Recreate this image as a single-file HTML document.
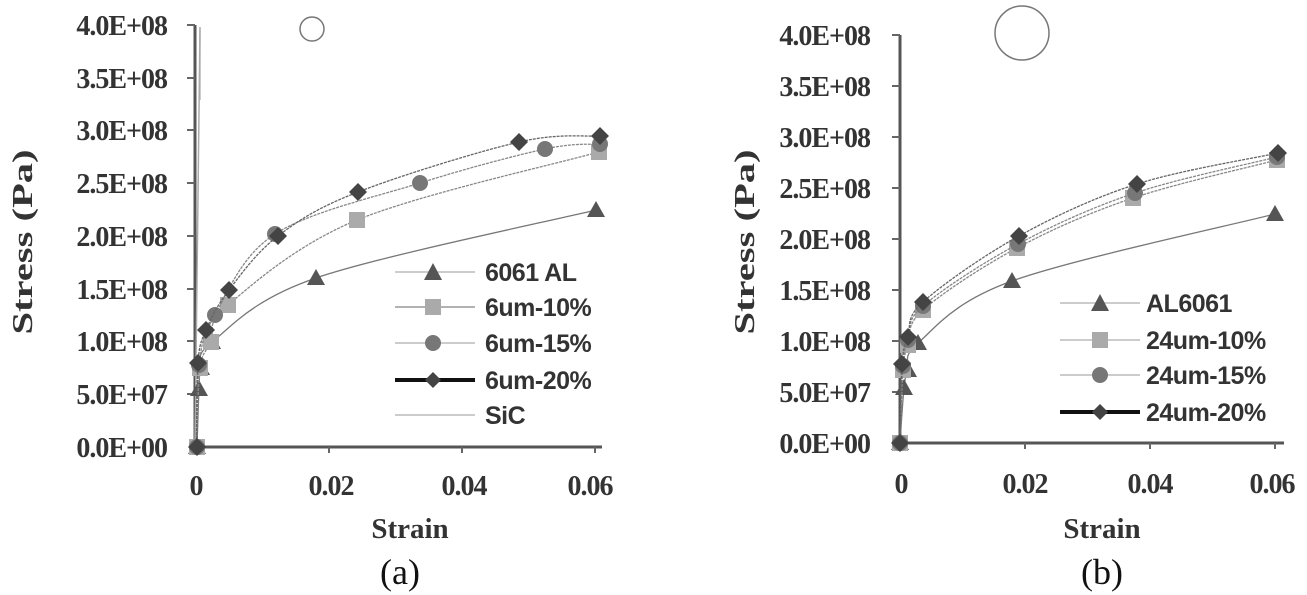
<!DOCTYPE html>
<html><head><meta charset="utf-8"><style>
html,body{margin:0;padding:0;background:#fff;}
svg{display:block;}
.tk{font-family:"Liberation Serif",serif;font-weight:bold;font-size:28px;fill:#333;letter-spacing:-1px;}
.ax{font-family:"Liberation Serif",serif;font-weight:bold;font-size:29px;fill:#333;}
.lg{font-family:"Liberation Sans",sans-serif;font-weight:bold;font-size:25px;fill:#333;letter-spacing:-0.5px;}
.cap{font-family:"Liberation Serif",serif;font-size:36px;fill:#111;}
</style></head><body>
<svg id="s" width="1307" height="595" viewBox="0 0 1307 595" xmlns="http://www.w3.org/2000/svg">
<g stroke="#555" stroke-width="3" fill="none">
<line x1="195" y1="25" x2="195" y2="447"/>
<line x1="195" y1="447" x2="602" y2="447"/>
</g>
<g stroke="#666" stroke-width="2">
<line x1="187" y1="25" x2="195" y2="25"/><line x1="187" y1="78" x2="195" y2="78"/><line x1="187" y1="130" x2="195" y2="130"/><line x1="187" y1="183" x2="195" y2="183"/><line x1="187" y1="236" x2="195" y2="236"/><line x1="187" y1="289" x2="195" y2="289"/><line x1="187" y1="341" x2="195" y2="341"/><line x1="187" y1="394" x2="195" y2="394"/>
<line x1="329" y1="447" x2="329" y2="453"/><line x1="462" y1="447" x2="462" y2="453"/><line x1="595" y1="447" x2="595" y2="453"/>
</g>
<g class="tk" text-anchor="end">
<text x="167" y="35">4.0E+08</text><text x="167" y="88">3.5E+08</text><text x="167" y="140">3.0E+08</text><text x="167" y="193">2.5E+08</text><text x="167" y="246">2.0E+08</text><text x="167" y="299">1.5E+08</text><text x="167" y="351">1.0E+08</text><text x="167" y="404">5.0E+07</text><text x="167" y="457">0.0E+00</text>
</g>
<g class="tk" text-anchor="middle">
<text x="196" y="495">0</text><text x="331" y="495">0.02</text><text x="464" y="495">0.04</text><text x="590" y="495">0.06</text>
</g>
<g class="ax" text-anchor="middle">
<text x="410" y="538">Strain</text>
<text transform="translate(32,242) rotate(-90)" textLength="185" lengthAdjust="spacingAndGlyphs">Stress (Pa)</text>
</g>
<text class="cap" x="400" y="584" text-anchor="middle">(a)</text>
<circle cx="312" cy="29" r="12" fill="none" stroke="#777" stroke-width="1.5"/>
<line x1="200" y1="30" x2="200" y2="100" stroke="#bbb" stroke-width="1.5"/>
<g id="L"></g>
<g>
<line x1="395" y1="272" x2="475" y2="272" stroke="#bbb" stroke-width="1.5"/><polygon points="433,263 442,280 424,280" fill="#555"/>
<line x1="395" y1="307" x2="475" y2="307" stroke="#999" stroke-width="1.5"/><rect x="425" y="299" width="16" height="16" fill="#aaa"/>
<line x1="395" y1="343" x2="475" y2="343" stroke="#bbb" stroke-width="1.5"/><circle cx="433" cy="343" r="8" fill="#777"/>
<line x1="395" y1="380" x2="475" y2="380" stroke="#111" stroke-width="4"/><polygon points="433,372 441,380 433,388 425,380" fill="#444"/>
<line x1="395" y1="415" x2="475" y2="415" stroke="#bbb" stroke-width="1.5"/>
<g class="lg"><text x="485" y="281">6061 AL</text><text x="485" y="316">6um-10%</text><text x="485" y="352">6um-15%</text><text x="485" y="389">6um-20%</text><text x="485" y="424">SiC</text></g>
</g>

<g stroke="#555" stroke-width="3" fill="none">
<line x1="900" y1="35" x2="900" y2="443"/>
<line x1="900" y1="443" x2="1284" y2="443"/>
</g>
<g stroke="#666" stroke-width="2">
<line x1="892" y1="35" x2="900" y2="35"/><line x1="892" y1="86" x2="900" y2="86"/><line x1="892" y1="137" x2="900" y2="137"/><line x1="892" y1="188" x2="900" y2="188"/><line x1="892" y1="239" x2="900" y2="239"/><line x1="892" y1="290" x2="900" y2="290"/><line x1="892" y1="341" x2="900" y2="341"/><line x1="892" y1="392" x2="900" y2="392"/>
<line x1="1025" y1="443" x2="1025" y2="449"/><line x1="1150" y1="443" x2="1150" y2="449"/><line x1="1275" y1="443" x2="1275" y2="449"/>
</g>
<g class="tk" text-anchor="end">
<text x="870" y="45">4.0E+08</text><text x="870" y="96">3.5E+08</text><text x="870" y="147">3.0E+08</text><text x="870" y="198">2.5E+08</text><text x="870" y="249">2.0E+08</text><text x="870" y="300">1.5E+08</text><text x="870" y="351">1.0E+08</text><text x="870" y="402">5.0E+07</text><text x="870" y="453">0.0E+00</text>
</g>
<g class="tk" text-anchor="middle">
<text x="901" y="493">0</text><text x="1025" y="493">0.02</text><text x="1150" y="493">0.04</text><text x="1272" y="493">0.06</text>
</g>
<g class="ax" text-anchor="middle">
<text x="1102" y="538">Strain</text>
<text transform="translate(754,242) rotate(-90)" textLength="185" lengthAdjust="spacingAndGlyphs">Stress (Pa)</text>
</g>
<text class="cap" x="1102" y="584" text-anchor="middle">(b)</text>
<circle cx="1022" cy="33" r="27" fill="none" stroke="#777" stroke-width="1.5"/>
<g id="R"></g>
<g>
<line x1="1060" y1="303" x2="1140" y2="303" stroke="#bbb" stroke-width="1.5"/><polygon points="1100,294 1109,311 1091,311" fill="#555"/>
<line x1="1060" y1="340" x2="1140" y2="340" stroke="#bbb" stroke-width="1.5"/><rect x="1092" y="332" width="16" height="16" fill="#aaa"/>
<line x1="1060" y1="375" x2="1140" y2="375" stroke="#bbb" stroke-width="1.5"/><circle cx="1100" cy="375" r="8" fill="#777"/>
<line x1="1060" y1="412" x2="1140" y2="412" stroke="#111" stroke-width="4"/><polygon points="1100,404 1108,412 1100,420 1092,412" fill="#444"/>
<g class="lg"><text x="1146" y="312">AL6061</text><text x="1146" y="349">24um-10%</text><text x="1146" y="384">24um-15%</text><text x="1146" y="421">24um-20%</text></g>
</g>
</svg>
<script>
function cr(p){var d="M"+p[0][0]+","+p[0][1];for(var i=0;i<p.length-1;i++){var a=p[i-1]||p[i],b=p[i],c=p[i+1],e=p[i+2]||c;d+=" C"+(b[0]+(c[0]-a[0])/6)+","+(b[1]+(c[1]-a[1])/6)+" "+(c[0]-(e[0]-b[0])/6)+","+(c[1]-(e[1]-b[1])/6)+" "+c[0]+","+c[1];}return d;}
var NS="http://www.w3.org/2000/svg";
function el(g,t,a){var e=document.createElementNS(NS,t);for(var k in a)e.setAttribute(k,a[k]);g.appendChild(e);return e;}
function mk(g,type,x,y){
 if(type=="t")el(g,"polygon",{points:x+","+(y-9)+" "+(x+9)+","+(y+7)+" "+(x-9)+","+(y+7),fill:"#555"});
 else if(type=="s")el(g,"rect",{x:x-8,y:y-8,width:16,height:16,fill:"#aaa"});
 else if(type=="c")el(g,"circle",{cx:x,cy:y,r:8,fill:"#777"});
 else el(g,"polygon",{points:x+","+(y-9)+" "+(x+9)+","+y+" "+x+","+(y+9)+" "+(x-9)+","+y,fill:"#444"});
}
function series(gid,pts,type,col){var g=document.getElementById(gid);
 el(g,"path",{d:cr(pts),fill:"none",stroke:col,"stroke-width":1.3,"stroke-dasharray":type=="t"?"":"3,1"});
 pts.forEach(function(p){mk(g,type,p[0],p[1]);});}
var gL=document.getElementById("L");
el(gL,"line",{x1:195,y1:447,x2:200,y2:27,stroke:"#aaa","stroke-width":1.5});
series("L",[[197,447],[199,389],[201,368],[212,342],[316,278],[596,210]],"t","#777");
series("L",[[197,447],[200,368],[211,342],[228,305],[357,220],[599,152]],"s","#888");
series("L",[[197,447],[199,365],[215,315],[275,234],[420,183],[545,149],[600,144]],"c","#888");
series("L",[[197,447],[198,363],[206,330],[229,290],[278,236],[358,192],[519,142],[600,136]],"d","#666");
series("R",[[900,443],[904,388],[908,370],[918,343],[1012,281],[1275,214]],"t","#777");
series("R",[[900,443],[903,370],[908,345],[923,310],[1017,248],[1133,198],[1277,160]],"s","#888");
series("R",[[900,443],[903,366],[908,340],[923,306],[1018,244],[1135,193],[1277,157]],"c","#888");
series("R",[[900,443],[902,364],[908,337],[923,302],[1019,236],[1137,184],[1278,153]],"d","#666");
</script>
</body></html>
